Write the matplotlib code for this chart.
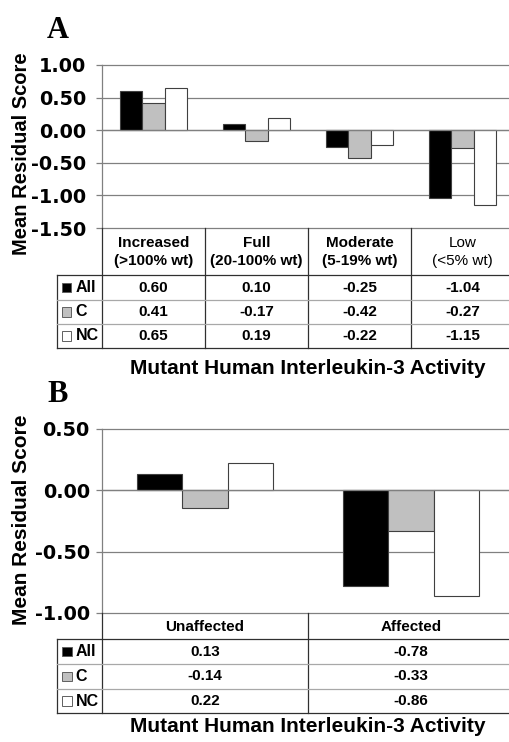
import matplotlib
matplotlib.use("Agg")
import matplotlib.pyplot as plt
from matplotlib.patches import Rectangle

# ---------------- data ----------------
series_names = ["All", "C", "NC"]
series_colors = ["#000000", "#c0c0c0", "#ffffff"]

cats_a = ["Increased\n(>100% wt)", "Full\n(20-100% wt)", "Moderate\n(5-19% wt)", "Low\n(<5% wt)"]
cats_a_weight = ["bold", "bold", "bold", "normal"]
all_a = [0.60, 0.10, -0.25, -1.04]
c_a = [0.41, -0.17, -0.42, -0.27]
nc_a = [0.65, 0.19, -0.22, -1.15]
yticks_a = [1.00, 0.50, 0.00, -0.50, -1.00, -1.50]

cats_b = ["Unaffected", "Affected"]
cats_b_weight = ["bold", "bold"]
all_b = [0.13, -0.78]
c_b = [-0.14, -0.33]
nc_b = [0.22, -0.86]
yticks_b = [0.50, 0.00, -0.50, -1.00]

xlabel_text = "Mutant Human Interleukin-3 Activity"
ylabel_text = "Mean Residual Score"

# ---------------- layout ----------------
W, H = 510, 742
fig = plt.figure(figsize=(W / 100, H / 100), dpi=100)


def px_rect(l, t, r, b):
    return [l / W, 1 - b / H, (r - l) / W, (b - t) / H]


GRID = "#808080"
EDGE = "#404040"
TABLE = "#303030"
INNER = "#a8a8a8"
TICKFONT = dict(family="DejaVu Sans", weight="bold", size=13.8)
TABFONT = ["Liberation Sans", "DejaVu Sans"]


def panel(letter, letter_xy, cats, weights, series, yticks, ax_px, tab_px,
          rows_px, header_mid, xlabel_y, ylabel_y, ylabel_size, tick_pad):
    l, t, r, b = ax_px
    n = len(cats)
    ax = fig.add_axes(px_rect(l, t, r, b))
    ax.set_xlim(-0.5, n - 0.5)
    ax.set_ylim(min(yticks), max(yticks))
    for s in ["top", "right", "bottom"]:
        ax.spines[s].set_visible(False)
    ax.spines["left"].set_color(GRID)
    ax.spines["left"].set_linewidth(0.9)
    ax.set_xticks([])
    ax.set_yticks(yticks)
    ax.set_yticklabels([f"{v:.2f}" for v in yticks], fontdict=TICKFONT)
    ax.tick_params(axis="y", length=4.3, width=0.9, color=GRID, pad=tick_pad)
    for v in yticks:
        ax.axhline(v, color=GRID, lw=0.9, zorder=1, clip_on=False)
    width = 0.22
    offsets = [-width, 0.0, width]
    for vals, col, off in zip(series, series_colors, offsets):
        ax.bar([i + off for i in range(n)], vals, width=width, color=col,
               edgecolor=EDGE, linewidth=0.8, zorder=2)
    ax.axhline(0, color=GRID, lw=0.9, zorder=3)

    # ----- table -----
    tl, tt, tr, tb = tab_px
    cat_px = (r - l) / n
    left_x = -0.5 - (l - tl) / cat_px
    axt = fig.add_axes(px_rect(tl, tt, tr, tb))
    axt.set_xlim(left_x, n - 0.5)
    axt.set_ylim(rows_px[-1], 0)
    axt.axis("off")
    hb = rows_px[0]
    for k in range(n):
        axt.plot([k - 0.5, k - 0.5], [0, rows_px[-1]], color=TABLE, lw=0.9, clip_on=False)
    axt.plot([left_x, left_x], [hb, rows_px[-1]], color=TABLE, lw=0.9, clip_on=False)
    axt.plot([left_x, n], [hb, hb], color=TABLE, lw=0.9, clip_on=False)
    for yy in rows_px[1:-1]:
        axt.plot([left_x, n], [yy, yy], color=INNER, lw=0.9, clip_on=False)
    axt.plot([left_x, n], [rows_px[-1], rows_px[-1]], color=TABLE, lw=0.9, clip_on=False)

    for i, (c, w) in enumerate(zip(cats, weights)):
        axt.text(i, header_mid, c, ha="center", va="center", family=TABFONT,
                 weight=w, size=11, linespacing=1.3)
    bounds = [hb] + list(rows_px[1:])
    for j, (name, vals, col) in enumerate(zip(series_names, series, series_colors)):
        ymid = (bounds[j] + bounds[j + 1]) / 2
        sq = 9.5 / cat_px
        axt.add_patch(Rectangle((left_x + 5.0 / cat_px, ymid - 4.75), sq, 9.5,
                                facecolor=col, edgecolor="#606060", lw=0.7))
        axt.text(left_x + 18.5 / cat_px, ymid, name, ha="left", va="center",
                 family=TABFONT, weight="bold", size=11.5)
        for i, v in enumerate(vals):
            axt.text(i, ymid, f"{v:.2f}", ha="center", va="center",
                     family=TABFONT, weight="bold", size=11)

    fig.text((l + r) / 2 / W, 1 - xlabel_y / H, xlabel_text, ha="center", va="center",
             family=TABFONT, weight="bold", size=15)
    fig.text(22 / W, 1 - ylabel_y / H, ylabel_text, rotation=90, ha="center", va="center",
             family=TABFONT, weight="bold", size=ylabel_size)
    fig.text(letter_xy[0] / W, 1 - letter_xy[1] / H, letter, ha="left", va="center",
             family=["Liberation Serif", "DejaVu Serif"], weight="bold", size=22)


panel("A", (47, 31), cats_a, cats_a_weight, [all_a, c_a, nc_a], yticks_a,
      (102, 65, 514, 228), (57, 228, 514, 348), [47, 72, 96, 120], 24,
      368, 154, 14.5, 7.0)
panel("B", (47, 395), cats_b, cats_b_weight, [all_b, c_b, nc_b], yticks_b,
      (102, 429, 514, 613), (57, 613, 514, 713), [26, 51, 76, 100], 14,
      727, 520, 15, 4.5)

fig.savefig("out.png", dpi=100, facecolor="white")
